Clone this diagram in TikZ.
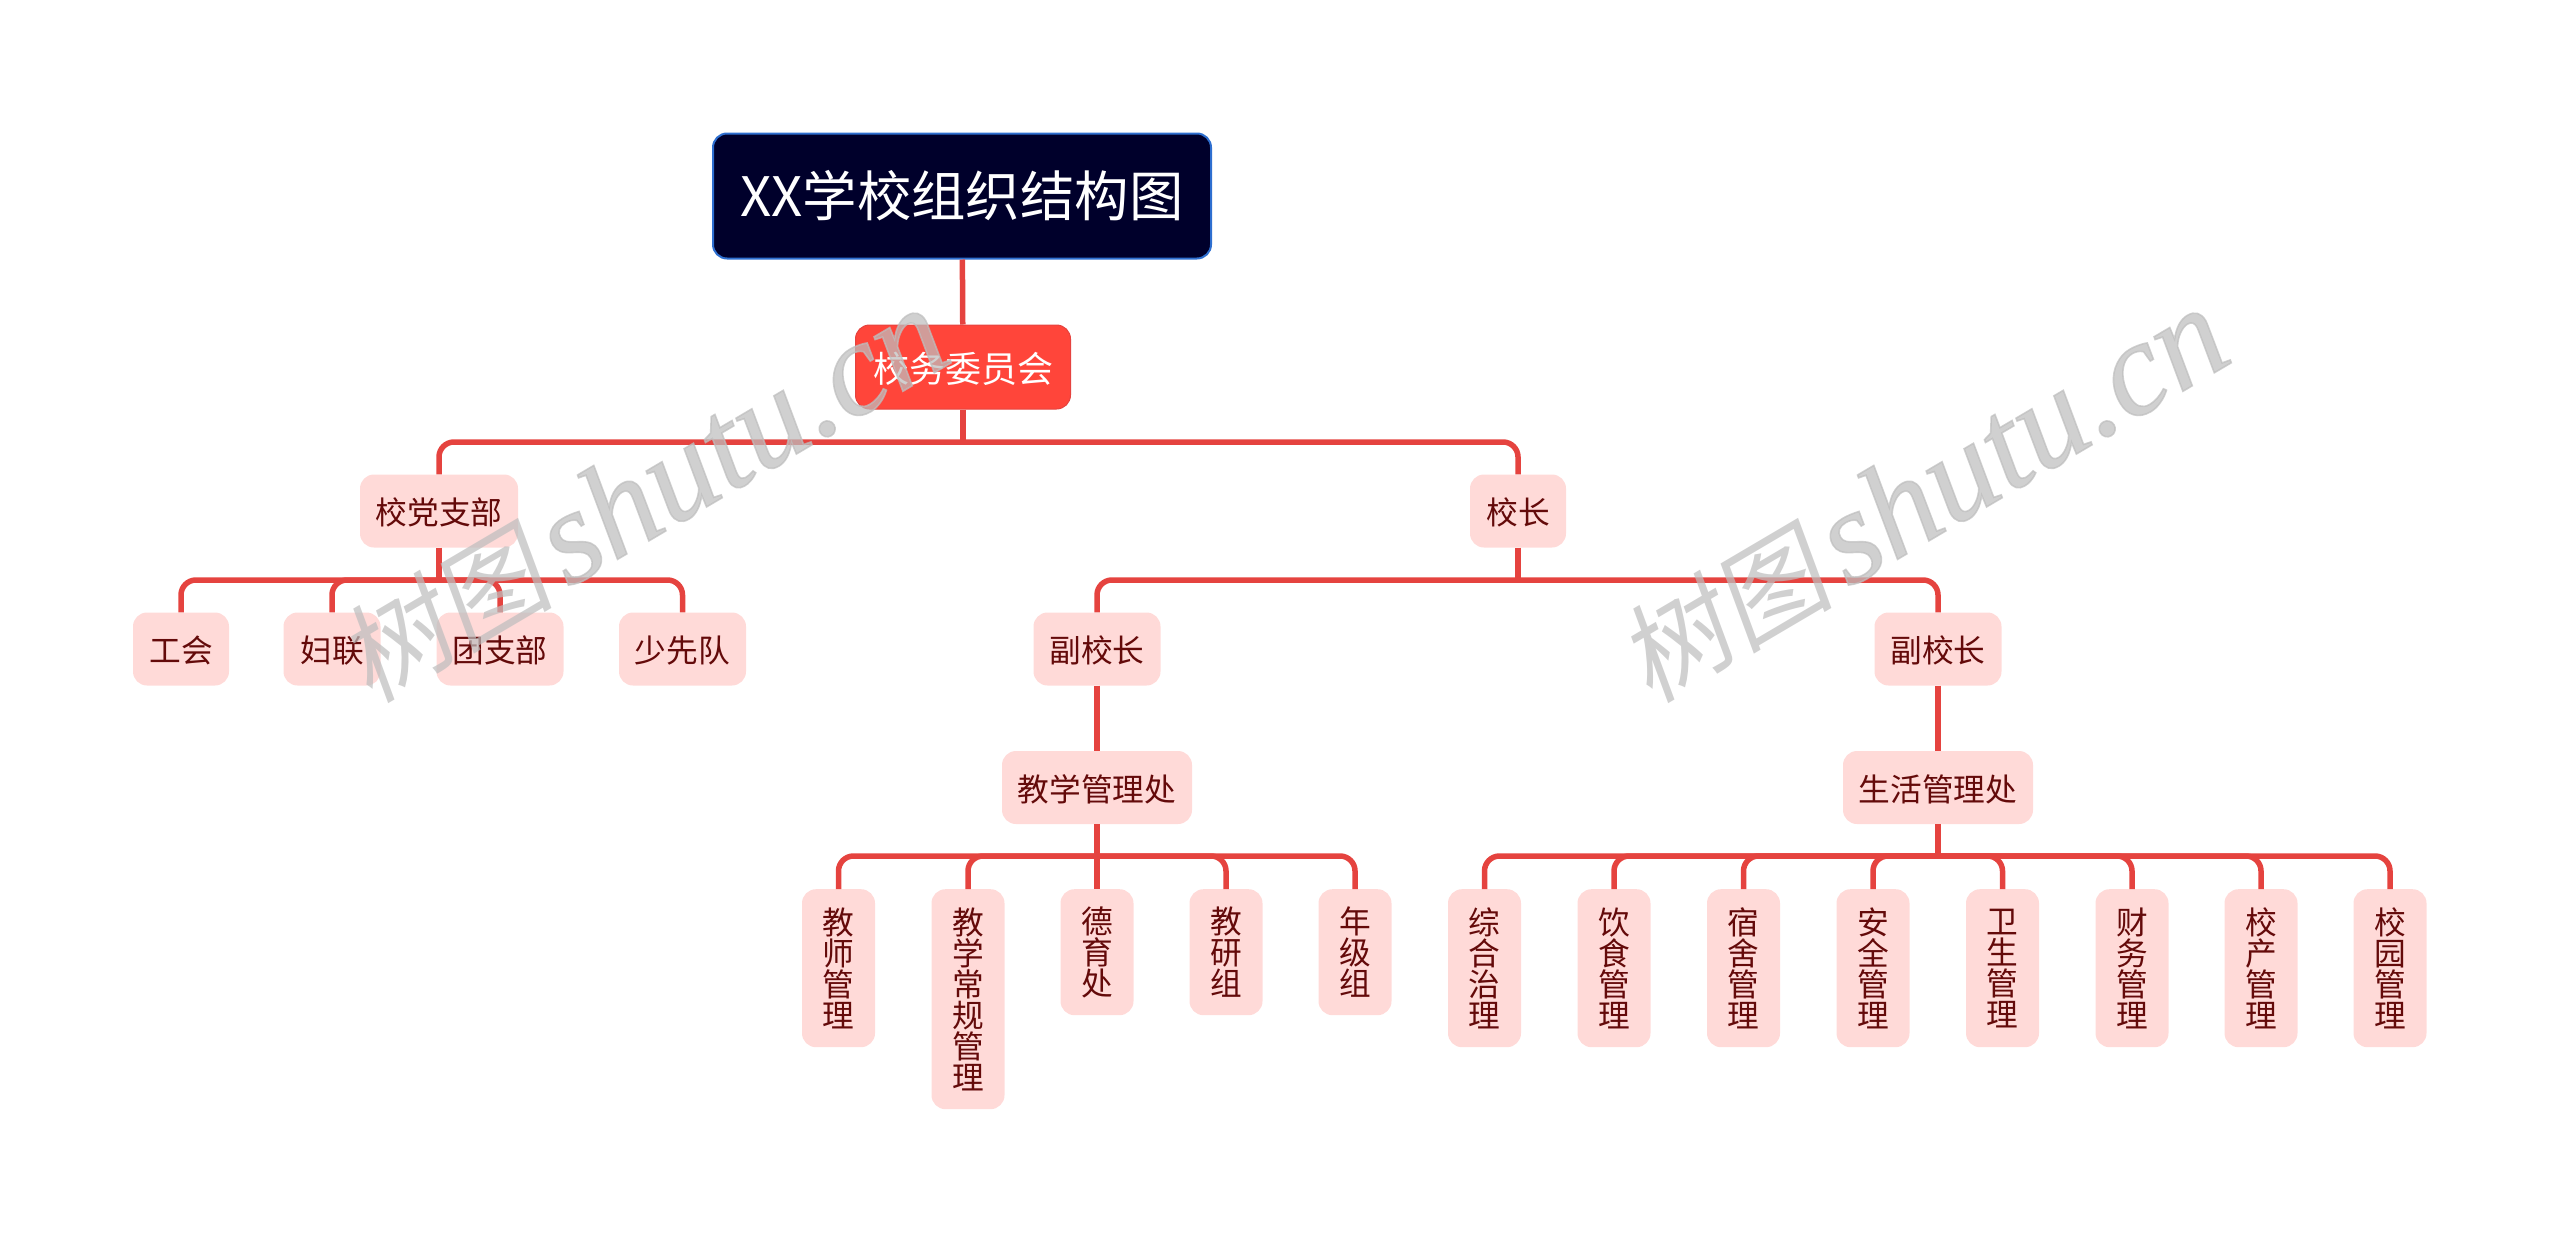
\documentclass[tikz,border=0pt]{standalone}
\usepackage{fontspec}
\setmainfont{Noto Sans CJK SC}
\newfontfamily\wmcjk[FakeSlant=0.18]{Noto Sans CJK SC}
\newfontfamily\wmlat{Liberation Serif Italic}[FakeBold=1.2]
\definecolor{lineR}{HTML}{E5433F}
\definecolor{leafF}{HTML}{FFDAD8}
\definecolor{leafT}{HTML}{640A0A}
\definecolor{rootF}{HTML}{00002B}
\definecolor{rootD}{HTML}{2E6FD0}
\definecolor{midF}{HTML}{FF453A}
\definecolor{wmG}{HTML}{BEBEBE}
\tikzset{
  x=1pt,y=-1pt,
  conn/.style={draw=lineR,line width=5.5pt},
  elbow/.style={conn,rounded corners=15pt},
  leafbox/.style={fill=leafF,rounded corners=14pt,inner sep=0pt,text=leafT,
    font=\fontsize{31.7}{31}\selectfont,minimum height=73pt,align=center},
  tallbox/.style={leafbox,minimum width=73pt,anchor=north,text width=40pt},
  rootbox/.style={draw=rootD,line width=2pt,fill=rootF,rounded corners=14pt,inner sep=0pt,text=white,
    font=\fontsize{54.4}{56}\selectfont,minimum width=498pt,minimum height=125pt},
  midbox/.style={draw=lineR,line width=1pt,fill=midF,rounded corners=14pt,inner sep=0pt,text=white,
    font=\fontsize{36}{36}\selectfont,minimum width=215pt,minimum height=84pt},
  wmark/.style={text=wmG,opacity=.72,rotate=30.5,inner sep=0pt}
}
\newcommand{\dn}[1]{\raisebox{-1.5pt}[\height][\depth]{#1}}
\newcommand{\wmtext}{{\wmcjk\fontsize{108}{108}\selectfont 树图}\hspace{14pt}{\wmlat\fontsize{134}{134}\selectfont shutu.cn}}
\begin{document}
\begin{tikzpicture}
\useasboundingbox (0,0) rectangle (2560,1242);
% buses
\coordinate (busA) at (963,442);
\coordinate (busB) at (439,580);
\coordinate (busC) at (1518,580);
\coordinate (busD) at (1097,856);
\coordinate (busE) at (1938,856);
% nodes
\node[rootbox] (root) at (962,196) {XX学校组织结构图};
\node[midbox] (board) at (963,367) {\dn{校务委员会}};
\node[leafbox,minimum width=158pt] (party) at (439,511) {\dn{校党支部}};
\node[leafbox,minimum width=96pt] (head) at (1518,511) {\dn{校长}};
\node[leafbox,minimum width=96pt] (union) at (181,649) {\dn{工会}};
\node[leafbox,minimum width=97pt] (women) at (332,649) {\dn{妇联}};
\node[leafbox,minimum width=127pt] (league) at (500,649) {\dn{团支部}};
\node[leafbox,minimum width=127pt] (pioneer) at (682.5,649) {\dn{少先队}};
\node[leafbox,minimum width=127pt] (viceL) at (1097,649) {\dn{副校长}};
\node[leafbox,minimum width=127pt] (viceR) at (1938,649) {\dn{副校长}};
\node[leafbox,minimum width=190pt] (teach) at (1097,787.5) {\dn{教学管理处}};
\node[leafbox,minimum width=190pt] (life) at (1938,787.5) {\dn{生活管理处}};
\node[tallbox,minimum height=158pt] (a1) at (838.5,889) {教\\师\\管\\理};
\node[tallbox,minimum height=220pt] (a2) at (968,889) {教\\学\\常\\规\\管\\理};
\node[tallbox,minimum height=126pt] (a3) at (1097,889) {德\\育\\处};
\node[tallbox,minimum height=126pt] (a4) at (1226,889) {教\\研\\组};
\node[tallbox,minimum height=126pt] (a5) at (1355,889) {年\\级\\组};
\node[tallbox,minimum height=158pt] (b1) at (1484.5,889) {综\\合\\治\\理};
\node[tallbox,minimum height=158pt] (b2) at (1614,889) {饮\\食\\管\\理};
\node[tallbox,minimum height=158pt] (b3) at (1743.5,889) {宿\\舍\\管\\理};
\node[tallbox,minimum height=158pt] (b4) at (1873,889) {安\\全\\管\\理};
\node[tallbox,minimum height=158pt] (b5) at (2002.5,889) {卫\\生\\管\\理};
\node[tallbox,minimum height=158pt] (b6) at (2132,889) {财\\务\\管\\理};
\node[tallbox,minimum height=158pt] (b7) at (2261,889) {校\\产\\管\\理};
\node[tallbox,minimum height=158pt] (b8) at (2390,889) {校\\园\\管\\理};
% connectors
\draw[conn] (root) -- (board);
\draw[conn] (board) -- (busA);
\draw[conn] (party) -- (busB);
\draw[conn] (head) -- (busC);
\draw[conn] (viceL) -- (teach);
\draw[conn] (viceR) -- (life);
\draw[conn] (teach) -- (a3);
\draw[conn] (life) -- (busE);
\foreach \c in {party,head} \draw[elbow] (busA) -- (busA -| \c.north) -- (\c.north);
\foreach \c in {union,women,league,pioneer} \draw[elbow] (busB) -- (busB -| \c.north) -- (\c.north);
\foreach \c in {viceL,viceR} \draw[elbow] (busC) -- (busC -| \c.north) -- (\c.north);
\foreach \c in {a1,a2,a4,a5} \draw[elbow] (busD) -- (busD -| \c.north) -- (\c.north);
\foreach \c in {b1,b2,b3,b4,b5,b6,b7,b8} \draw[elbow] (busE) -- (busE -| \c.north) -- (\c.north);
% watermarks
\node[wmark] (wmA) at (642,496) {\wmtext};
\node[wmark] (wmB) at (1922,496) {\wmtext};
\end{tikzpicture}
\end{document}
